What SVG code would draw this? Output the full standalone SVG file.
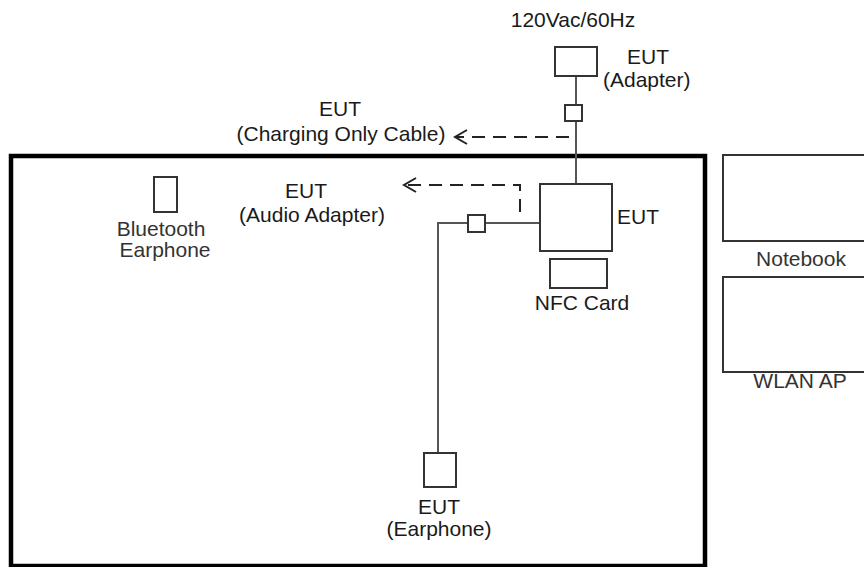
<svg xmlns="http://www.w3.org/2000/svg" width="864" height="567" viewBox="0 0 864 567">
<style>
  text { font-family: "Liberation Sans", Arial, sans-serif; font-size: 21px; fill: #1a1a1a; }
  .mid { text-anchor: middle; }
  .gray { fill: #333; }
  .box { fill: #fff; stroke: #333; stroke-width: 2; }
  .cable { fill: none; stroke: #555; stroke-width: 2; }
  .dash { fill: none; stroke: #222; stroke-width: 2; stroke-dasharray: 13 8; }
  .frame { fill: none; stroke: #000; stroke-width: 4.5; }
</style>
<defs>
  <marker id="open" markerUnits="userSpaceOnUse" markerWidth="20" markerHeight="20" viewBox="-14 -10 20 20" refX="0" refY="0" orient="auto">
    <path d="M-12,-7 L0,0 L-12,7" fill="none" stroke="#222" stroke-width="2"/>
  </marker>
</defs>
<rect width="864" height="567" fill="#fff"/>
<rect class="frame" x="11" y="156" width="694" height="410"/>

<g id="connectors">
  <path class="cable" d="M576,76 V105 M576,121 V184"/>
  <path class="cable" d="M540,223 H485 M468,223 H438 V453"/>
  <path class="dash" d="M569,137 H455" marker-end="url(#open)"/>
  <path class="dash" d="M520,212 V185 H404" marker-end="url(#open)"/>
</g>

<g id="power">
  <text class="mid" x="573" y="27">120Vac/60Hz</text>
</g>
<g id="adapter">
  <rect class="box" x="555" y="47" width="42" height="29"/>
  <text x="627" y="64">EUT</text>
  <text x="603" y="87">(Adapter)</text>
</g>
<g id="adapter-connector">
  <rect class="box" x="565" y="105" width="17" height="16"/>
</g>
<g id="charging-cable">
  <text class="mid" x="340" y="116">EUT</text>
  <text class="mid" x="341" y="141">(Charging Only Cable)</text>
</g>
<g id="eut">
  <rect class="box" x="540" y="184" width="72" height="67"/>
  <text x="617" y="224">EUT</text>
</g>
<g id="nfc-card">
  <rect class="box" x="550" y="259" width="57" height="29"/>
  <text class="mid" x="582" y="310">NFC Card</text>
</g>
<g id="audio-adapter">
  <text class="mid" x="306" y="198">EUT</text>
  <text class="mid" x="312" y="222">(Audio Adapter)</text>
</g>
<g id="audio-connector">
  <rect class="box" x="468" y="215" width="17" height="17"/>
</g>
<g id="earphone">
  <rect class="box" x="424" y="453" width="32" height="34"/>
  <text class="mid" x="439" y="514">EUT</text>
  <text class="mid" x="439" y="536">(Earphone)</text>
</g>
<g id="bluetooth-earphone">
  <rect class="box" x="154" y="177" width="23" height="35"/>
  <text class="mid gray" x="161" y="236">Bluetooth</text>
  <text class="mid gray" x="165" y="257">Earphone</text>
</g>
<g id="notebook">
  <rect class="box" x="723" y="155" width="160" height="86"/>
  <text class="mid gray" x="801" y="266">Notebook</text>
</g>
<g id="wlan-ap">
  <rect class="box" x="723" y="277" width="160" height="95"/>
  <text class="mid gray" x="800" y="388">WLAN AP</text>
</g>
</svg>
